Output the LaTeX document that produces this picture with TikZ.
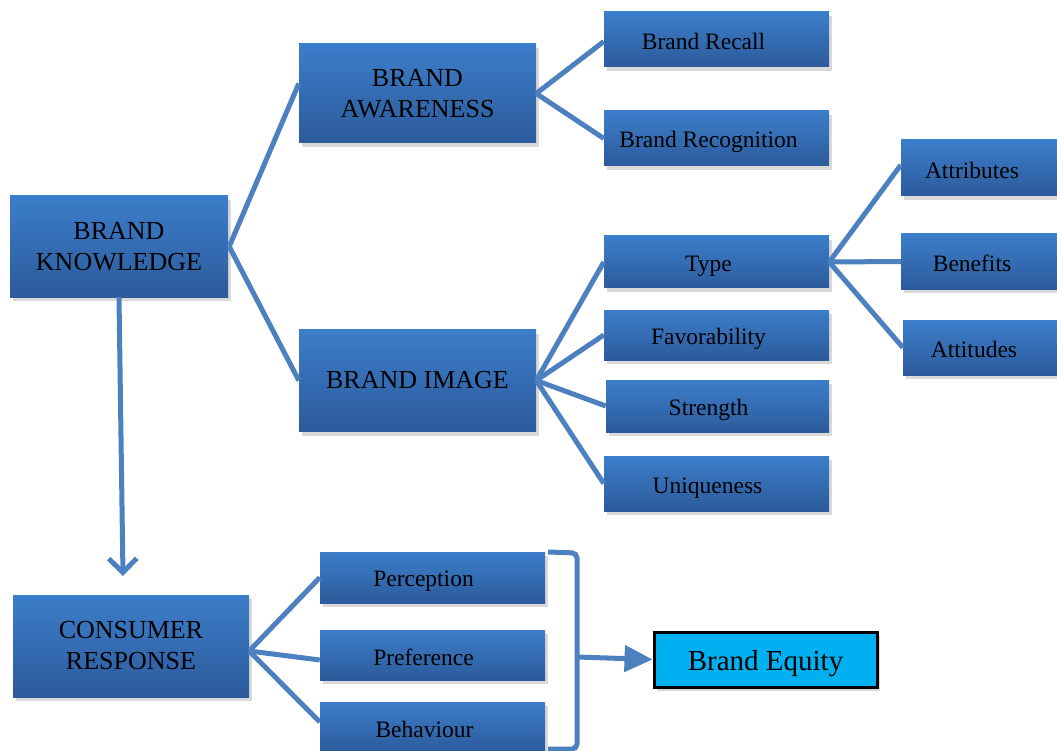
\documentclass[tikz,border=0pt]{standalone}
\usepackage{fontspec}
\setmainfont{Liberation Serif}
\usetikzlibrary{arrows.meta,shadows}
\definecolor{boxtop}{RGB}{60,126,202}
\definecolor{boxbot}{RGB}{44,90,155}
\definecolor{link}{RGB}{76,128,190}
\definecolor{equity}{RGB}{0,176,240}
\begin{document}
\begin{tikzpicture}[x=1pt,y=-1pt,
  box/.style={rectangle, top color=boxtop, bottom color=boxbot, draw=none,
    drop shadow={opacity=0.3, shadow xshift=3pt, shadow yshift=-4pt},
    inner sep=0pt, align=center},
  bigbox/.style={box, font=\fontsize{26}{31}\selectfont},
  smallbox/.style={box, minimum width=225pt},
  stxt/.style={font=\fontsize{23.5}{28}\selectfont, inner sep=0pt},
  link/.style={draw=link, line width=5pt},
]
\useasboundingbox (0,0) rectangle (1057,751);

% main concept boxes
\node[bigbox, minimum width=218pt, minimum height=101pt] (bk) at (119,246.5) {BRAND\\KNOWLEDGE};
\node[bigbox, minimum width=237pt, minimum height=99pt] (ba) at (417.5,93.5) {BRAND\\AWARENESS};
\node[bigbox, minimum width=237pt, minimum height=102pt] (bi) at (417.5,380.5) {BRAND IMAGE};
\node[bigbox, minimum width=236pt, minimum height=102pt] (cr) at (131,646) {CONSUMER\\RESPONSE};

% awareness branches
\node[smallbox, minimum height=55pt] (recall) at (716.5,39.5) {};
\node[stxt] (recall-t) at ([xshift=-13pt,yshift=-2pt]recall.center) {Brand Recall};
\node[smallbox, minimum height=55pt] (recog) at (716.5,138.5) {};
\node[stxt] (recog-t) at ([xshift=-8pt,yshift=-3pt]recog.center) {Brand Recognition};

% image branches
\node[smallbox, minimum height=52pt] (type) at (716.5,262) {};
\node[stxt] (type-t) at ([xshift=-8pt,yshift=-4pt]type.center) {Type};
\node[smallbox, minimum height=50pt] (fav) at (716.5,335) {};
\node[stxt] (fav-t) at ([xshift=-8pt,yshift=-4pt]fav.center) {Favorability};
\node[smallbox, minimum width=223pt, minimum height=52pt] (str) at (717.5,406) {};
\node[stxt] (str-t) at ([xshift=-9pt,yshift=-4pt]str.center) {Strength};
\node[smallbox, minimum height=55pt] (uniq) at (716.5,483.5) {};
\node[stxt] (uniq-t) at ([xshift=-9pt,yshift=-5pt]uniq.center) {Uniqueness};

% type branches
\node[box, minimum width=156pt, minimum height=56pt] (attr) at (979,168) {};
\node[stxt] (attr-t) at ([xshift=-7pt,yshift=-2pt]attr.center) {Attributes};
\node[box, minimum width=156pt, minimum height=55pt] (ben) at (979,261.5) {};
\node[stxt] (ben-t) at ([xshift=-7pt,yshift=-2pt]ben.center) {Benefits};
\node[box, minimum width=154pt, minimum height=55pt] (att) at (980,347.5) {};
\node[stxt] (att-t) at ([xshift=-6pt,yshift=-2pt]att.center) {Attitudes};

% response branches
\node[smallbox, minimum height=51pt] (perc) at (432.5,577.5) {};
\node[stxt] (perc-t) at ([xshift=-9pt,yshift=-4pt]perc.center) {Perception};
\node[smallbox, minimum height=50pt] (pref) at (432.5,655) {};
\node[stxt] (pref-t) at ([xshift=-9pt,yshift=-2pt]pref.center) {Preference};
\node[smallbox, minimum height=50pt] (behv) at (432.5,727) {};
\node[stxt] (behv-t) at ([xshift=-8pt,yshift=-2pt]behv.center) {Behaviour};

% outcome
\node[rectangle, fill=equity, draw=black, line width=3pt, minimum width=223pt, minimum height=55pt,
  drop shadow={opacity=0.3, shadow xshift=3pt, shadow yshift=-4pt},
  text height=27pt, text depth=6pt, inner sep=0pt,
  font=\fontsize{29}{34}\selectfont] (eq) at (765.5,659.5) {Brand Equity};

% connectors
\draw[link] ([xshift=1pt]bk.east) -- ([yshift=10pt]ba.west);
\draw[link] ([xshift=1pt]bk.east) -- (bi.west);
\draw[link] (ba.east) -- ([yshift=-2pt]recall.west);
\draw[link] (ba.east) -- (recog.west);
\draw[link] (bi.east) -- (type.west);
\draw[link] (bi.east) -- (fav.west);
\draw[link] (bi.east) -- (str.west);
\draw[link] (bi.east) -- (uniq.west);
\draw[link] (type.east) -- ([yshift=3pt]attr.west);
\draw[link] (type.east) -- (ben.west);
\draw[link] (type.east) -- (att.west);
\draw[link] ([yshift=-5pt]cr.east) -- (perc.west);
\draw[link] ([yshift=-5pt]cr.east) -- ([yshift=-5pt]pref.west);
\draw[link] ([yshift=-5pt]cr.east) -- ([yshift=5pt]behv.west);

% knowledge leads to response
\coordinate (arrowend) at (123,576);
\draw[link, -{Straight Barb[length=14pt,width=28pt]}] (bk.south) -- (arrowend);

% bracket gathering the responses
\coordinate (brtop) at (548,552);
\coordinate (brbot) at (548,749);
\coordinate (brmid) at (577,657);
\draw[link, rounded corners=5pt] (brtop) -- (577,553) -- (577,749) -- (brbot);
\draw[draw=link, line width=5pt, -{Triangle[length=28pt,width=26pt]}] (brmid) -- (eq.west);
\end{tikzpicture}
\end{document}
